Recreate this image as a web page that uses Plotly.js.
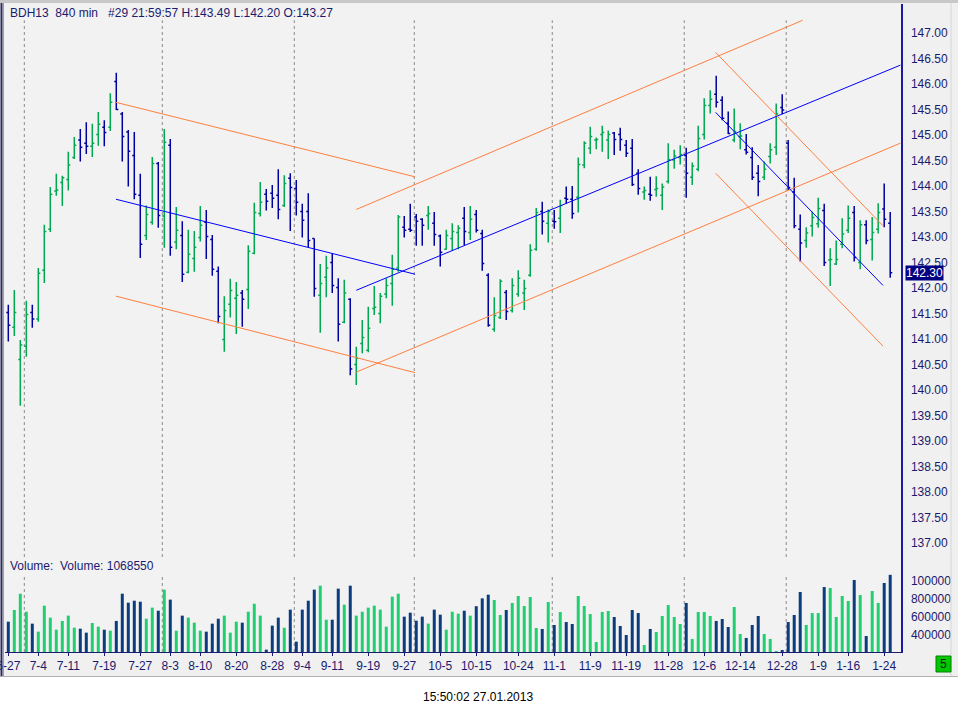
<!DOCTYPE html>
<html><head><meta charset="utf-8">
<script src="https://cdn.plot.ly/plotly-3.0.1.min.js"></script>
<style>html,body{margin:0;padding:0;background:#f0f0f0;overflow:hidden}#chart{width:958px;height:715px}</style>
</head><body><div id="chart"></div>
<script>
// ---- data (bar index 0 = 6-27) ----
const openP = [141.52,141.23,140.60,140.86,141.52,141.39,142.35,143.15,143.90,144.07,
144.13,144.56,144.90,144.84,144.78,145.01,145.15,145.15,146.05,145.41,
145.06,144.60,143.82,143.03,143.29,144.44,143.41,144.80,142.90,143.03,
142.31,142.58,142.99,143.29,142.95,142.33,140.99,141.68,141.80,141.90,
141.97,142.68,143.46,143.84,143.86,143.82,143.62,144.15,143.95,143.50,
143.50,142.97,141.86,142.21,142.50,142.01,141.33,141.78,140.50,140.91,
140.78,141.60,141.50,141.88,142.09,142.39,143.19,143.15,143.39,143.35,
143.42,143.27,143.02,142.76,142.97,143.09,143.37,143.09,143.44,143.07,
142.25,141.19,141.42,141.91,141.56,141.88,141.90,142.25,142.76,143.50,
143.27,143.31,143.37,143.76,143.74,143.78,144.41,144.74,144.90,145.01,
144.90,145.04,145.01,144.80,144.74,144.25,143.88,143.84,143.93,143.82,
144.09,144.51,144.56,144.60,144.17,144.33,145.01,145.58,145.80,145.68,
145.23,144.90,144.97,144.71,144.56,144.25,144.17,144.58,144.76,145.54,
144.84,143.88,143.15,142.93,143.22,143.26,143.52,142.55,142.47,142.86,
143.13,143.48,142.50,143.24,142.95,143.15,143.55,143.27];
const highP = [141.67,141.96,140.98,141.75,141.67,142.39,143.24,143.98,144.24,144.20,
144.67,144.96,145.12,145.25,145.22,145.45,145.29,145.82,146.22,145.45,
145.10,145.06,144.24,143.62,144.57,144.47,145.12,144.92,143.59,143.31,
143.14,143.12,143.61,143.53,143.04,142.42,141.84,142.18,142.12,141.96,
142.84,143.67,144.08,143.94,144.02,144.33,144.21,144.25,144.12,143.65,
143.86,142.97,142.47,142.63,142.68,142.19,142.16,141.80,140.85,141.37,
141.63,142.04,141.90,142.19,142.65,143.43,143.41,143.65,143.45,143.37,
143.61,143.49,143.05,143.14,143.27,143.23,143.59,143.61,143.53,143.14,
142.29,141.82,142.17,141.96,142.19,142.35,142.16,142.86,143.57,143.69,
143.54,143.53,143.73,143.99,144.00,144.56,144.88,145.16,144.95,145.18,
145.09,145.06,145.14,144.90,144.92,144.33,143.99,144.18,144.19,144.05,
144.84,144.71,144.80,144.75,144.46,145.18,145.72,145.88,146.16,145.76,
145.46,145.52,145.23,145.02,144.76,144.41,144.48,144.84,145.62,145.80,
144.90,144.16,143.44,143.19,143.50,143.77,143.65,142.78,142.93,143.37,
143.62,143.61,143.33,143.33,143.39,143.66,144.05,143.49];
const lowP = [140.95,141.06,139.69,140.65,141.22,141.34,142.10,143.10,143.81,143.61,
143.91,144.53,144.48,144.63,144.57,144.79,144.78,145.08,145.49,144.48,
143.99,143.74,142.59,142.94,143.24,143.18,142.79,142.63,142.76,142.12,
142.29,142.32,142.91,142.57,142.24,141.31,140.75,141.42,141.10,141.24,
141.59,142.66,143.40,143.52,143.57,143.35,143.59,143.12,143.42,142.99,
142.80,141.83,141.12,141.82,141.90,140.95,141.31,140.29,140.10,140.72,
140.74,141.47,141.31,141.80,141.65,142.32,142.99,143.10,142.83,142.83,
143.14,142.83,142.42,142.75,142.73,142.76,142.84,142.94,143.09,142.34,
141.24,141.14,141.39,141.37,141.52,141.83,141.57,142.22,142.73,143.05,
142.89,143.16,143.08,143.65,143.36,143.48,144.35,144.63,144.72,144.67,
144.53,144.61,144.69,144.57,144.00,143.83,143.73,143.71,143.79,143.53,
144.05,144.34,144.42,143.77,144.02,144.29,144.91,145.42,145.54,145.29,
145.02,144.86,144.72,144.62,144.12,143.80,144.12,144.44,144.61,145.41,
143.92,143.17,142.52,142.79,143.01,143.18,142.43,142.04,142.45,142.78,
143.08,142.52,142.37,142.86,142.54,143.07,143.19,142.20];
const closeP = [141.27,141.52,140.88,141.48,141.39,142.29,143.11,143.84,143.92,144.16,
144.41,144.80,144.76,144.78,144.84,145.21,145.05,145.64,145.50,144.97,
144.68,143.84,142.86,143.44,144.44,143.42,144.86,142.80,143.13,142.27,
142.66,142.80,143.23,143.01,142.37,141.44,141.56,141.95,141.86,141.78,
142.72,143.48,143.68,143.70,143.76,143.54,144.05,143.97,143.68,143.33,
142.93,141.99,142.09,142.39,142.05,141.29,141.90,140.41,140.62,141.03,
141.21,141.62,141.84,142.05,142.37,143.39,143.13,143.13,143.31,143.23,
143.46,143.05,142.70,143.03,143.11,143.17,143.11,143.35,143.13,142.48,
141.27,141.46,142.13,141.54,142.05,142.19,141.99,142.74,143.48,143.31,
143.50,143.30,143.62,143.74,143.46,144.42,144.84,144.97,144.91,145.05,
145.01,144.91,144.91,144.64,144.03,143.95,143.91,143.82,143.95,143.98,
144.52,144.59,144.62,144.25,144.39,144.93,145.58,145.70,145.64,145.33,
145.03,145.07,144.98,144.66,144.17,144.09,144.33,144.71,145.41,145.49,
143.97,143.22,142.88,143.08,143.38,143.56,142.50,142.56,142.56,143.06,
143.37,142.60,143.24,142.93,143.09,143.48,143.35,142.30];
const volume = [548000,678000,859000,659000,526000,437000,726000,593000,459000,556000,
615000,481000,470000,426000,533000,493000,459000,448000,556000,859000,
759000,781000,770000,581000,704000,670000,904000,793000,448000,615000,
593000,537000,448000,437000,526000,581000,615000,426000,548000,537000,
659000,748000,615000,237000,504000,593000,481000,682000,326000,682000,
781000,904000,948000,570000,570000,915000,737000,948000,615000,659000,
704000,726000,682000,493000,826000,859000,604000,648000,559000,604000,
526000,682000,626000,459000,659000,637000,670000,615000,720000,807000,
848000,789000,622000,678000,756000,833000,722000,822000,478000,467000,
767000,511000,656000,544000,522000,833000,722000,633000,322000,656000,
667000,600000,500000,400000,678000,644000,289000,467000,433000,611000,
733000,600000,522000,756000,356000,656000,656000,611000,556000,578000,
489000,711000,411000,367000,511000,611000,411000,356000,222000,233000,
544000,622000,878000,511000,644000,644000,933000,922000,600000,833000,
778000,1011000,844000,389000,889000,756000,978000,1068550];
const tickIdx    = [0,5,10,16,22,27,32,38,44,49,54,60,66,72,78,85,91,97,103,110,116,122,129,135,140,146];
const tickLabels = ["6-27","7-4","7-11","7-19","7-27","8-3","8-10","8-20","8-28","9-4","9-11","9-19","9-27",
                    "10-5","10-15","10-24","11-1","11-9","11-19","11-28","12-6","12-14","12-28","1-9","1-16","1-24"];
const monthStartIdx = [3,26,48,68,91,113,130];
const priceTicks = [137,137.5,138,138.5,139,139.5,140,140.5,141,141.5,142,142.5,143,143.5,144,144.5,145,145.5,146,146.5,147];
const volTicks = [400000,600000,800000,1000000];
// trend lines drawn on the chart: [barIndex0, price0, barIndex1, price1, kind]
const trendLines = [
  [17.95,145.64,67.8,144.18,"edge"],[17.95,143.74,67.8,142.27,"mid"],[17.95,141.84,67.8,140.34,"edge"],
  [58.0,143.54,132.4,147.25,"edge"],[58.0,141.955,148.7,146.37,"mid"],[58.0,140.35,148.7,144.84,"edge"],
  [117.9,146.62,145.8,143.22,"edge"],[117.9,145.445,145.8,142.05,"mid"],[117.9,144.25,145.8,140.86,"edge"]
];

// ---- geometry helpers ----
const L=5, R=901, T=4, B=652;
const px = v => (v-L)/(R-L);
const py = v => (B-v)/(B-T);
const FONT = "Liberation Sans, Arial, sans-serif";
const NAVY = "#1a1a6e";
const n = closeP.length;
const idx = closeP.map((_, i) => i);
const priceBot = 136.725, priceTop = 147.569;
const volBot = 211000, volTop = 1266700;

const traces = [];
traces.push({
  type:'ohlc', x: idx, open: openP, high: highP, low: lowP, close: closeP,
  xaxis:'x', yaxis:'y', tickwidth:0.34, hoverinfo:'skip',
  increasing:{line:{color:'#00a850', width:1.5}},
  decreasing:{line:{color:'#0000a0', width:1.5}}
});
traces.push({
  type:'bar', x: idx, y: volume, xaxis:'x', yaxis:'y2', width:0.5, hoverinfo:'skip',
  marker:{color: idx.map(i => closeP[i] >= openP[i] ? '#20d070' : '#0b3d7e'), line:{width:0}}
});
trendLines.forEach(t => {
  traces.push({type:'scatter', mode:'lines', x:[t[0],t[2]], y:[t[1],t[3]], xaxis:'x', yaxis:'y',
    hoverinfo:'skip', line:{color: t[4]==='mid' ? '#0000ff' : '#ff7f3f', width:1}});
});

const shapes = [];
monthStartIdx.forEach(m => {
  shapes.push({type:'line', xref:'x', yref:'y', x0:m-0.33, x1:m-0.33, y0:priceBot, y1:147.25,
    line:{color:'#8a8a8a', width:1, dash:'dot'}, layer:'below'});
  shapes.push({type:'line', xref:'x', yref:'y2', x0:m-0.33, x1:m-0.33, y0:volBot, y1:1066700,
    line:{color:'#8a8a8a', width:1, dash:'dot'}, layer:'below'});
});
// frame pieces
shapes.push({type:'rect', xref:'paper', yref:'paper', x0:px(951), x1:px(960), y0:py(-2), y1:py(677),
  fillcolor:'#f0f0f0', line:{color:'#d6d6d6', width:1}, layer:'above'});
shapes.push({type:'rect', xref:'paper', yref:'paper', x0:px(-2), x1:px(960), y0:py(677), y1:py(717),
  fillcolor:'#ffffff', line:{width:0}, layer:'above'});
shapes.push({type:'line', xref:'paper', yref:'paper', x0:px(0), x1:px(958), y0:py(676.5), y1:py(676.5),
  line:{color:'#b0b0b0', width:1}, layer:'above'});
shapes.push({type:'line', xref:'paper', yref:'paper', x0:px(1.5), x1:px(1.5), y0:py(0), y1:py(676),
  line:{color:'#2a2a60', width:2}, layer:'above'});
shapes.push({type:'line', xref:'paper', yref:'paper', x0:px(3.5), x1:px(3.5), y0:py(0), y1:py(676),
  line:{color:'#a0a0a0', width:1}, layer:'above'});
shapes.push({type:'line', xref:'paper', yref:'paper', x0:px(0), x1:px(958), y0:py(1.5), y1:py(1.5),
  line:{color:'#c8c8c8', width:3}, layer:'above'});
shapes.push({type:'rect', xref:'paper', yref:'paper', x0:px(936), x1:px(951), y0:py(672), y1:py(656),
  fillcolor:'#00c800', line:{color:'#008000', width:1}, layer:'above'});

const last = n-1;
const nb = '\u00a0';
const annotations = [
  {xref:'paper', yref:'paper', x:px(8), y:py(13), xanchor:'left', yanchor:'middle', showarrow:false,
   text:`BDH13${nb}${nb}840 min${nb}${nb}${nb}#29 21:59:57 H:${highP[last].toFixed(2)} L:${lowP[last].toFixed(2)} O:${openP[last].toFixed(2)}`,
   font:{family:FONT, size:12, color:NAVY}},
  {xref:'paper', yref:'paper', x:px(8), y:py(566), xanchor:'left', yanchor:'middle', showarrow:false,
   text:`Volume:${nb}${nb}Volume: ${volume[last]}`, font:{family:FONT, size:12, color:NAVY}},
  {xref:'paper', yref:'y', x:px(905), y:closeP[last], xanchor:'left', yanchor:'middle', showarrow:false,
   text: closeP[last].toFixed(2), bgcolor:'#000080', borderpad:0, font:{family:FONT, size:12, color:'#ffffff'}},
  {xref:'paper', yref:'paper', x:px(943.5), y:py(664), xanchor:'center', yanchor:'middle', showarrow:false,
   text:'5', font:{family:FONT, size:12, color:'#102010'}},
  {xref:'paper', yref:'paper', x:px(478), y:py(697), xanchor:'center', yanchor:'middle', showarrow:false,
   text:'15:50:02 27.01.2013', font:{family:FONT, size:12, color:'#000000'}}
];

const layout = {
  width:958, height:715, margin:{l:L, r:958-R, t:T, b:715-B},
  paper_bgcolor:'#f0f0f0', plot_bgcolor:'#f2f2f2', showlegend:false,
  font:{family:FONT, size:12, color:NAVY},
  xaxis:{domain:[0,1], range:[-0.55,148.8], anchor:'y2', tickmode:'array', tickvals:tickIdx, ticktext:tickLabels,
    ticks:'outside', ticklen:3, tickcolor:NAVY, tickfont:{family:FONT, size:12, color:NAVY},
    ticklabeloverflow:'allow', tickangle:0,
    showline:true, linecolor:NAVY, linewidth:1, showgrid:false, zeroline:false,
    rangeslider:{visible:false}, fixedrange:true},
  yaxis:{domain:[py(557),1], range:[priceBot,priceTop], side:'right', anchor:'x', tickmode:'array',
    tickvals:priceTicks, ticktext:priceTicks.map(v => v.toFixed(2)), ticks:'', ticklabelstandoff:6,
    tickfont:{family:FONT, size:12, color:NAVY}, showline:true, linecolor:'#1a1aa0', linewidth:1.5,
    showgrid:false, zeroline:false, fixedrange:true},
  yaxis2:{domain:[0,py(557)], range:[volBot,volTop], side:'right', anchor:'x', tickmode:'array',
    tickvals:volTicks, ticktext:volTicks.map(v => String(v)), ticks:'', ticklabelstandoff:6,
    tickfont:{family:FONT, size:12, color:NAVY}, showline:true, linecolor:'#1a1aa0', linewidth:1.5,
    showgrid:false, zeroline:false, fixedrange:true},
  shapes: shapes, annotations: annotations
};
Plotly.newPlot('chart', traces, layout, {staticPlot:true, displayModeBar:false});
</script></body></html>
